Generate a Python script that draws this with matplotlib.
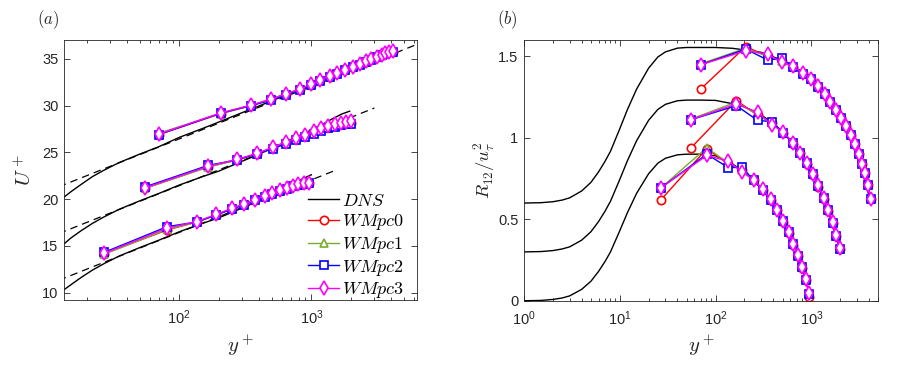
import matplotlib
matplotlib.use("Agg")
import matplotlib.pyplot as plt
from matplotlib.ticker import LogLocator, NullFormatter

plt.rcParams["font.family"] = ["Liberation Sans", "DejaVu Sans"]
plt.rcParams["mathtext.fontset"] = "cm"

# ---------------- DNS, panel (a): U+ ----------------
dns_u_y1 = [13.4, 15, 18, 22, 27, 35, 50, 70, 100, 150, 200, 300, 400, 500, 600, 700, 800, 900, 1000]
dns_u_1 = [10.3, 10.8, 11.6, 12.4, 13.1, 13.9, 14.8, 15.6, 16.5, 17.4, 18.0, 19.05, 19.8, 20.45, 21.0, 21.5, 21.95, 22.3, 22.6]
dns_u_y2 = [13.4, 15, 18, 22, 27, 35, 50, 70, 100, 150, 200, 300, 400, 500, 650, 800, 1000, 1200, 1450, 1700, 1950]
dns_u_2 = [15.2, 15.8, 16.6, 17.4, 18.1, 18.9, 19.8, 20.6, 21.5, 22.4, 23.0, 24.05, 24.8, 25.4, 26.15, 26.75, 27.4, 27.95, 28.6, 29.1, 29.4]
dns_u_y3 = [13.4, 15, 18, 22, 27, 35, 50, 70, 100, 150, 200, 300, 400, 500, 700, 1000, 1500, 2000, 2500, 3000, 3500, 4200]
dns_u_3 = [20.2, 20.75, 21.55, 22.4, 23.1, 23.9, 24.8, 25.6, 26.6, 27.55, 28.25, 29.25, 29.95, 30.5, 31.35, 32.2, 33.2, 33.95, 34.55, 35.05, 35.5, 35.95]

# log-law reference lines (end points)
log_y1 = [10, 1500]
log_u1 = [10.82, 23.04]
log_y2 = [10, 3000]
log_u2 = [15.82, 29.74]
log_y3 = [10, 8000]
log_u3 = [20.82, 37.13]

# ---------------- DNS, panel (b): R12 ----------------
dns_r_y1 = [1, 1.5, 2, 2.5, 3, 4, 5, 6, 7, 8, 10, 12, 15, 20, 25, 30, 40, 50, 70, 100, 150, 200, 300, 400, 500, 600, 700, 800, 900, 1000]
dns_r_1 = [0.0, 0.002, 0.008, 0.017, 0.03, 0.07, 0.12, 0.18, 0.24, 0.30, 0.43, 0.54, 0.66, 0.78, 0.845, 0.875, 0.896, 0.90, 0.90, 0.89, 0.84, 0.79, 0.69, 0.594, 0.495, 0.396, 0.297, 0.197, 0.097, 0.0]
dns_r_y2 = [1, 1.5, 2, 2.5, 3, 4, 5, 6, 7, 8, 10, 12, 15, 20, 25, 30, 40, 50, 70, 100, 150, 200, 300, 400, 600, 800, 1000, 1200, 1400, 1600, 1800, 2000]
dns_r_2 = [0.30, 0.302, 0.308, 0.318, 0.331, 0.372, 0.424, 0.486, 0.549, 0.611, 0.745, 0.859, 0.983, 1.108, 1.175, 1.206, 1.228, 1.232, 1.232, 1.23, 1.21, 1.19, 1.14, 1.09, 0.99, 0.895, 0.795, 0.697, 0.598, 0.499, 0.40, 0.30]
dns_r_y3 = [1, 1.5, 2, 2.5, 3, 4, 5, 6, 7, 8, 10, 12, 15, 20, 25, 30, 40, 50, 70, 100, 150, 200, 300, 500, 700, 1000, 1500, 2000, 2500, 3000, 3500, 4200]
dns_r_3 = [0.60, 0.602, 0.608, 0.618, 0.632, 0.674, 0.727, 0.791, 0.855, 0.918, 1.056, 1.173, 1.30, 1.428, 1.497, 1.528, 1.551, 1.555, 1.555, 1.555, 1.55, 1.54, 1.525, 1.476, 1.43, 1.358, 1.24, 1.12, 1.003, 0.885, 0.765, 0.60]

# ---------------- wall-model points ----------------
yp1 = [27, 81, 136, 190, 249, 311, 376, 442, 507, 582, 651, 724, 799, 877, 955]
yp2 = [55, 165, 275, 390, 510, 640, 768, 900, 1040, 1185, 1347, 1500, 1665, 1823, 1985]
yp3 = [70, 207, 349, 491, 645, 817, 990, 1170, 1375, 1576, 1810, 2060, 2320, 2576, 2841, 3126, 3400, 3627, 3865, 4145]

u1_pc0 = [14.15, 16.7, 17.55, 18.3, 18.95, 19.45, 19.88, 20.3, 20.6, 20.9, 21.15, 21.4, 21.55, 21.65, 21.72]
u1_pc1 = [14.1, 16.75, 17.55, 18.3, 18.95, 19.45, 19.88, 20.3, 20.6, 20.9, 21.15, 21.4, 21.55, 21.65, 21.72]
u1_pc2 = [14.3, 17.05, 17.55, 18.3, 18.9, 19.4, 19.85, 20.25, 20.55, 20.85, 21.1, 21.35, 21.5, 21.62, 21.7]
u1_pc3 = [14.2, 16.9, 17.6, 18.35, 19.0, 19.5, 19.9, 20.35, 20.62, 20.94, 21.2, 21.42, 21.58, 21.68, 21.75]

u2_pc0 = [21.15, 23.45, 24.2, 24.85, 25.5, 26.0, 26.45, 26.85, 27.2, 27.45, 27.7, 27.9, 28.0, 28.1, 28.15]
u2_pc1 = [21.15, 23.4, 24.2, 24.85, 25.45, 25.95, 26.4, 26.8, 27.15, 27.4, 27.65, 27.85, 27.95, 28.05, 28.1]
u2_pc2 = [21.3, 23.6, 24.2, 24.85, 25.4, 25.9, 26.3, 26.65, 27.0, 27.3, 27.55, 27.75, 27.9, 28.0, 28.05]
u2_pc3 = [21.2, 23.5, 24.25, 24.9, 25.55, 26.1, 26.5, 26.9, 27.25, 27.55, 27.8, 28.0, 28.15, 28.25, 28.3]

u3_pc0 = [26.9, 29.15, 30.0, 30.68, 31.25, 31.75, 32.25, 32.74, 33.1, 33.48, 33.8, 34.12, 34.4, 34.7, 34.95, 35.18, 35.4, 35.58, 35.72, 35.78]
u3_pc1 = [27.05, 29.15, 30.0, 30.7, 31.25, 31.75, 32.25, 32.74, 33.1, 33.48, 33.8, 34.12, 34.4, 34.7, 34.95, 35.18, 35.4, 35.58, 35.72, 35.78]
u3_pc2 = [26.9, 29.2, 30.0, 30.55, 31.15, 31.68, 32.18, 32.68, 33.05, 33.43, 33.76, 34.08, 34.37, 34.65, 34.9, 35.15, 35.37, 35.55, 35.68, 35.75]
u3_pc3 = [26.95, 29.23, 30.05, 30.66, 31.26, 31.76, 32.26, 32.76, 33.12, 33.5, 33.82, 34.15, 34.43, 34.72, 34.97, 35.21, 35.43, 35.6, 35.75, 35.8]

r1_pc0 = [0.621, 0.933, 0.84, 0.80, 0.742, 0.682, 0.62, 0.555, 0.485, 0.418, 0.345, 0.273, 0.2, 0.125, 0.025]
r1_pc1 = [0.694, 0.94, 0.845, 0.80, 0.745, 0.685, 0.625, 0.56, 0.49, 0.425, 0.35, 0.28, 0.21, 0.133, 0.048]
r1_pc2 = [0.694, 0.90, 0.817, 0.82, 0.74, 0.68, 0.62, 0.557, 0.488, 0.42, 0.348, 0.277, 0.205, 0.128, 0.04]
r1_pc3 = [0.694, 0.892, 0.857, 0.79, 0.743, 0.684, 0.623, 0.56, 0.49, 0.423, 0.351, 0.28, 0.208, 0.131, 0.049]

r2_pc0 = [0.937, 1.229, 1.14, 1.09, 1.03, 0.965, 0.905, 0.84, 0.775, 0.70, 0.625, 0.55, 0.475, 0.395, 0.315]
r2_pc1 = [1.115, 1.22, 1.14, 1.09, 1.035, 0.972, 0.91, 0.846, 0.78, 0.707, 0.632, 0.56, 0.483, 0.40, 0.318]
r2_pc2 = [1.111, 1.198, 1.107, 1.10, 1.03, 0.968, 0.905, 0.843, 0.777, 0.705, 0.628, 0.556, 0.48, 0.398, 0.32]
r2_pc3 = [1.111, 1.209, 1.157, 1.08, 1.035, 0.97, 0.909, 0.845, 0.78, 0.708, 0.631, 0.56, 0.484, 0.402, 0.325]

r3_pc0 = [1.30, 1.561, 1.50, 1.47, 1.437, 1.396, 1.36, 1.315, 1.268, 1.221, 1.172, 1.119, 1.07, 1.017, 0.962, 0.901, 0.839, 0.783, 0.708, 0.625]
r3_pc1 = [1.455, 1.55, 1.50, 1.47, 1.44, 1.40, 1.364, 1.319, 1.272, 1.225, 1.176, 1.123, 1.074, 1.021, 0.966, 0.905, 0.843, 0.787, 0.712, 0.629]
r3_pc2 = [1.449, 1.545, 1.478, 1.488, 1.435, 1.395, 1.36, 1.315, 1.268, 1.22, 1.172, 1.12, 1.07, 1.017, 0.962, 0.9, 0.84, 0.783, 0.708, 0.625]
r3_pc3 = [1.449, 1.535, 1.515, 1.464, 1.439, 1.398, 1.362, 1.317, 1.27, 1.223, 1.174, 1.121, 1.072, 1.019, 0.964, 0.903, 0.841, 0.785, 0.71, 0.627]

labels = [r"$DNS$", r"$WMpc0$", r"$WMpc1$", r"$WMpc2$", r"$WMpc3$"]

# marker styles for pc0..pc3
styles = [
    dict(color="#ff0000", marker="o", ms=6),
    dict(color="#77ac30", marker="^", ms=6),
    dict(color="#0000ff", marker="s", ms=5.5),
    dict(color="#ff00ff", marker="d", ms=7.5),
]
ink = "#262626"


def wm(ax, y, vals):
    hs = []
    for v, st in zip(vals, styles):
        h, = ax.plot(y, v, "-", color=st["color"], lw=1.0, marker=st["marker"],
                     ms=st["ms"], mfc="white", mec=st["color"], mew=1.2)
        hs.append(h)
    return hs


def style_axes(ax):
    ax.set_xscale("log")
    ax.xaxis.set_minor_locator(LogLocator(base=10, subs=range(2, 10), numticks=20))
    ax.xaxis.set_minor_formatter(NullFormatter())
    ax.tick_params(which="both", direction="in", top=True, right=True, colors=ink,
                   labelsize=10.5, width=0.6)
    ax.tick_params(which="major", length=4.5, pad=4)
    ax.tick_params(axis="x", which="major", pad=6)
    ax.tick_params(which="minor", length=2.5)
    for s in ax.spines.values():
        s.set_color(ink)
        s.set_linewidth(0.6)


fig = plt.figure(figsize=(9.05, 3.65), dpi=100)

# ---------------- (a) ----------------
ax1 = fig.add_axes([0.0707, 0.178, 0.390, 0.712])
dns_h, = ax1.plot(dns_u_y1, dns_u_1, "k-", lw=1.0)
ax1.plot(dns_u_y2, dns_u_2, "k-", lw=1.0)
ax1.plot(dns_u_y3, dns_u_3, "k-", lw=1.0)
for yy, uu in [(log_y1, log_u1), (log_y2, log_u2), (log_y3, log_u3)]:
    ax1.plot(yy, uu, "k--", lw=0.9, dashes=(6, 4))
hs = wm(ax1, yp1, [u1_pc0, u1_pc1, u1_pc2, u1_pc3])
wm(ax1, yp2, [u2_pc0, u2_pc1, u2_pc2, u2_pc3])
wm(ax1, yp3, [u3_pc0, u3_pc1, u3_pc2, u3_pc3])
style_axes(ax1)
ax1.set_xlim(13.4, 6300)
ax1.set_ylim(9.2, 37)
ax1.set_yticks([10, 15, 20, 25, 30, 35])
ax1.set_xticks([100, 1000])
ax1.set_ylabel(r"$U^+$", fontsize=15, color=ink)
ax1.set_xlabel(r"$y^+$", fontsize=15, color=ink)
ax1.yaxis.set_label_coords(-0.082, 0.5)
ax1.xaxis.set_label_coords(0.5, -0.125)
ax1.legend([dns_h] + hs, labels, loc="lower right", bbox_to_anchor=(1.0, -0.05),
           frameon=False, fontsize=13, handlelength=1.7, handletextpad=0.2,
           labelspacing=0.15, borderpad=0.2)

# ---------------- (b) ----------------
ax2 = fig.add_axes([0.579, 0.176, 0.3915, 0.714])
ax2.plot(dns_r_y1, dns_r_1, "k-", lw=1.0)
ax2.plot(dns_r_y2, dns_r_2, "k-", lw=1.0)
ax2.plot(dns_r_y3, dns_r_3, "k-", lw=1.0)
wm(ax2, yp1, [r1_pc0, r1_pc1, r1_pc2, r1_pc3])
wm(ax2, yp2, [r2_pc0, r2_pc1, r2_pc2, r2_pc3])
wm(ax2, yp3, [r3_pc0, r3_pc1, r3_pc2, r3_pc3])
style_axes(ax2)
ax2.set_xlim(1, 5000)
ax2.set_ylim(0, 1.6)
ax2.set_yticks([0, 0.5, 1, 1.5])
ax2.set_yticklabels(["0", "0.5", "1", "1.5"])
ax2.set_xticks([1, 10, 100, 1000])
ax2.set_ylabel(r"$R_{12}/u_\tau^2$", fontsize=13.5, color=ink)
ax2.set_xlabel(r"$y^+$", fontsize=15, color=ink)
ax2.yaxis.set_label_coords(-0.076, 0.5)
ax2.xaxis.set_label_coords(0.5, -0.125)

fig.text(0.041, 0.945, r"$(a)$", fontsize=12, color=ink, va="center")
fig.text(0.549, 0.945, r"$(b)$", fontsize=12, color=ink, va="center")

fig.savefig("out.png", dpi=100)
